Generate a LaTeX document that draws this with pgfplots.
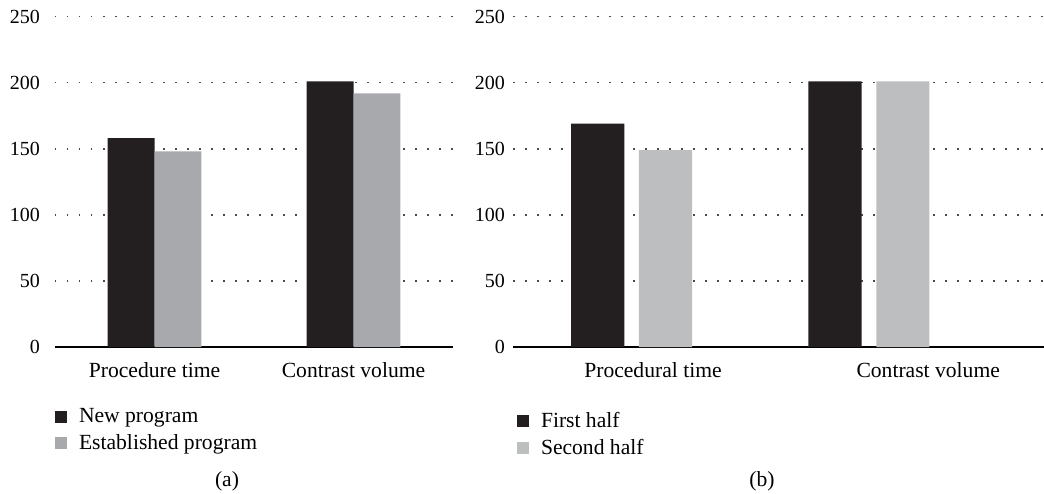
\documentclass[border=0pt]{standalone}
\usepackage{pgfplots}
\pgfplotsset{compat=1.18}
\usepackage{fontspec}
\setmainfont{Liberation Serif}
\definecolor{barblack}{HTML}{231F20}
\definecolor{graya}{HTML}{A7A9AC}
\definecolor{grayb}{HTML}{BCBEC0}
\pgfplotsset{
  common/.style={
    scale only axis,
    height=165.2pt,
    ymin=0, ymax=250,
    ytick={0,50,100,150,200,250},
    axis x line=bottom,
    axis y line=left,
    axis line style={-},
    y axis line style={draw=none},
    x axis line style={line width=0.8pt, black},
    major tick length=0pt,
    ymajorgrids,
    grid style={black!70, line width=0.75pt, dash pattern=on 0.75pt off 5.25pt},
    /pgf/number format/assume math mode=true,
    ticklabel style={font=\fontsize{10}{12}\selectfont},
    xticklabel style={anchor=base, yshift=-15pt, font=\fontsize{10.8}{12}\selectfont},
    legend cell align=left,
    legend image code/.code={\fill[##1] (0pt,-3pt) rectangle (6pt,3pt);},
    legend style={draw=none, fill=none, inner sep=0pt, outer sep=0pt,
      font=\fontsize{10.8}{12}\selectfont, row sep=4.5pt,
      nodes={inner sep=0pt, inner xsep=6pt}},
  }
}
\begin{document}
\begin{tikzpicture}
\path[use as bounding box] (0,0) rectangle (522pt,246.5pt);
% (a)
\begin{axis}[common,
  at={(27.5pt,73pt)}, anchor=south west,
  width=199pt,
  xmin=-0.5, xmax=1.5,
  xtick={0,1},
  xticklabels={Procedure time, Contrast volume},
  yticklabel style={xshift=-4pt},
  legend style={at={(rel axis cs:0,0)}, anchor=north west, yshift=-30.5pt},
]
\addplot[ybar, bar width=0.236, bar shift=-0.118, fill=barblack, draw=none] coordinates {(0,158) (1,201)};
\addlegendentry{New program}
\addplot[ybar, bar width=0.236, bar shift=0.118, fill=graya, draw=none] coordinates {(0,148) (1,192)};
\addlegendentry{Established program}
\end{axis}
% (b)
\begin{axis}[common,
  at={(256.5pt,73pt)}, anchor=south west,
  width=265.5pt,
  xmin=-0.5, xmax=1.738,
  xtick={0.09,1.25},
  xticklabels={Procedural time, Contrast volume},
  yticklabel style={xshift=-0.5pt},
  legend style={at={(rel axis cs:0,0)}, anchor=north west, xshift=2pt, yshift=-32.5pt},
]
\addplot[ybar, bar width=0.224, bar shift=-0.143, fill=barblack, draw=none] coordinates {(0,169) (1,201)};
\addlegendentry{First half}
\addplot[ybar, bar width=0.224, bar shift=0.143, fill=grayb, draw=none] coordinates {(0,149) (1,201)};
\addlegendentry{Second half}
\end{axis}
\node[font=\fontsize{10.8}{12}\selectfont, anchor=base, inner sep=0pt] at (113.5pt,3.2pt) {(a)};
\node[font=\fontsize{10.8}{12}\selectfont, anchor=base, inner sep=0pt] at (381pt,3.2pt) {(b)};
\end{tikzpicture}
\end{document}
